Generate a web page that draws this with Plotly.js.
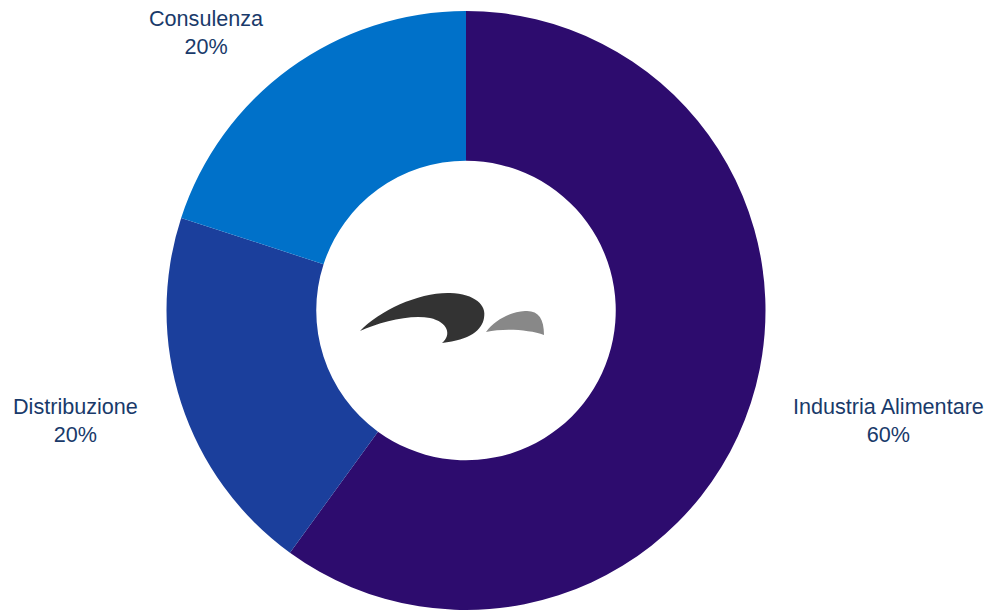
<!DOCTYPE html>
<html>
<head>
<meta charset="utf-8">
<script src="https://cdn.plot.ly/plotly-3.0.1.min.js"></script>
<style>html,body{margin:0;padding:0;background:#fff;}#chart{width:988px;height:610px;}</style>
</head>
<body>
<div id="chart"></div>
<script>
var labels = ["Industria Alimentare", "Distribuzione", "Consulenza"];
var values = [60, 20, 20];
var colors = ["#2d0c6e", "#1b3f9c", "#0071c9"];

var W = 988, H = 610, T = 11, B = 0;
function px(x){ return x / W; }
function py(y){ return 1 - (y - T) / (H - T - B); }

// label placement (pixel anchors of text blocks)
var labelPos = [[888, 420], [75, 420], [206, 33]];

var total = values.reduce(function(a,b){return a+b;}, 0);
var annotations = labels.map(function(l, i){
  return {
    xref: 'paper', yref: 'paper',
    x: px(labelPos[i][0]), y: py(labelPos[i][1]),
    xanchor: 'center', yanchor: 'middle',
    text: l + '<br>' + Math.round(values[i] / total * 100) + '%',
    showarrow: false,
    font: {family: 'Liberation Sans, Arial, sans-serif', size: 21.6, color: '#193a6a'},
    align: 'center'
  };
});

function pathFrom(cmds){
  return cmds.map(function(c){
    if (typeof c === 'string') return c;
    return px(c[0]).toFixed(5) + ',' + py(c[1]).toFixed(5);
  }).join(' ');
}

var darkSwoosh = pathFrom(['M',[360,331],'C',[380,310],[420,292],[450,293],'C',[475,294],[487,305],[484,318],
  'C',[482,330],[470,340],[442,343],'C',[452,335],[448,322],[430,318],'C',[410,314],[380,322],[360,331],'Z']);
var greySwoosh = pathFrom(['M',[486,332],'C',[495,320],[510,312],[525,311],'C',[538,310],[544,318],[544,335],
  'C',[530,330],[505,328],[486,332],'Z']);

var trace = {
  type: 'pie',
  labels: labels,
  values: values,
  hole: 0.5,
  sort: false,
  direction: 'clockwise',
  rotation: 0,
  textinfo: 'none',
  marker: {colors: colors, line: {width: 0}},
  domain: {x: [px(466) - 0.35, px(466) + 0.35], y: [0, 1]},
  showlegend: false,
  hoverinfo: 'label+percent'
};

var layout = {
  width: W, height: H,
  margin: {l: 0, r: 0, t: T, b: B},
  paper_bgcolor: '#ffffff',
  showlegend: false,
  annotations: annotations,
  shapes: [
    {type: 'path', xref: 'paper', yref: 'paper', path: darkSwoosh, fillcolor: '#333333', line: {width: 0}},
    {type: 'path', xref: 'paper', yref: 'paper', path: greySwoosh, fillcolor: '#888888', line: {width: 0}}
  ]
};

Plotly.newPlot('chart', [trace], layout, {displayModeBar: false, staticPlot: true});
</script>
</body>
</html>
